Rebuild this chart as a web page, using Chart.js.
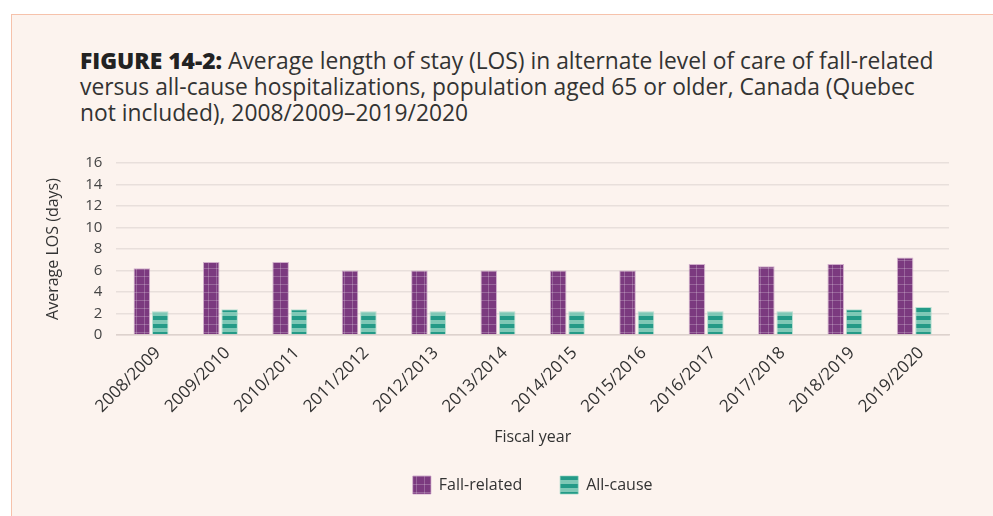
<!DOCTYPE html>
<html>
<head>
<meta charset="utf-8">
<script src="https://cdn.jsdelivr.net/npm/chart.js@4"></script>
<style>
	html, body {
		margin: 0;
		padding: 0;
		background: #ffffff;
		width: 993px;
		height: 516px;
		overflow: hidden;
		font-family: "Open Sans", sans-serif;
	}
	#panel {
		position: absolute;
		left: 11px;
		top: 14px;
		width: 1000px;
		height: 520px;
		background: #fcf3ee;
		border-left: 1px solid #f6c2ab;
		border-top: 1px solid #f6c2ab;
	}
	#title {
		position: absolute;
		left: 80px;
		top: 48px;
		width: 900px;
		font-size: 22.8px;
		line-height: 26px;
		color: #333333;
		white-space: nowrap;
	}
	#title b {
		font-weight: 800;
		color: #222222;
	}
	#wrap {
		position: absolute;
		left: 0;
		top: 140px;
		width: 993px;
		height: 376px;
	}
</style>
</head>
<body>
<div id="panel"></div>
<div id="title"><b>FIGURE 14-2:</b> Average length of stay (LOS) in alternate level of care of fall-related<br>versus all-cause hospitalizations, population aged 65 or older, Canada (Quebec<br>not included), 2008/2009–2019/2020</div>
<div id="wrap"><canvas id="myChart"></canvas></div>
<script>
"use strict";

const years = [
	"2008/2009", "2009/2010", "2010/2011", "2011/2012", "2012/2013", "2013/2014",
	"2014/2015", "2015/2016", "2016/2017", "2017/2018", "2018/2019", "2019/2020",
];
const fallRelated = [6.2, 6.8, 6.8, 6.0, 6.0, 6.0, 6.0, 6.0, 6.6, 6.4, 6.6, 7.2];
const allCause = [2.2, 2.4, 2.4, 2.2, 2.2, 2.2, 2.2, 2.2, 2.2, 2.2, 2.4, 2.6];
const yTicks = [0, 2, 4, 6, 8, 10, 12, 14, 16];

function gridPattern() {
	const c = document.createElement("canvas");
	c.width = 8;
	c.height = 8;
	const g = c.getContext("2d");
	g.fillStyle = "#7b3a7f";
	g.fillRect(0, 0, 8, 8);
	g.fillStyle = "rgba(255,255,255,0.22)";
	g.fillRect(0, 0, 1, 8);
	g.fillRect(0, 0, 8, 1);
	return g.createPattern(c, "repeat");
}

function stripePattern() {
	const c = document.createElement("canvas");
	c.width = 8;
	c.height = 8;
	const g = c.getContext("2d");
	g.fillStyle = "#249a87";
	g.fillRect(0, 0, 8, 4);
	g.fillStyle = "#7fc8b6";
	g.fillRect(0, 4, 8, 4);
	return g.createPattern(c, "repeat");
}

const ctx = document.getElementById("myChart");

new Chart(ctx, {
	type: "bar",
	data: {
		labels: years,
		datasets: [
			{
				label: "Fall-related",
				data: fallRelated,
				backgroundColor: gridPattern(),
				borderColor: "rgba(180,130,180,0.6)",
				borderWidth: 1,
				categoryPercentage: 0.53,
				barPercentage: 0.9,
			},
			{
				label: "All-cause",
				data: allCause,
				backgroundColor: stripePattern(),
				borderColor: "rgba(140,210,190,0.6)",
				borderWidth: 1,
				categoryPercentage: 0.53,
				barPercentage: 0.9,
			},
		],
	},
	options: {
		responsive: true,
		maintainAspectRatio: false,
		animation: false,
		layout: {
			padding: { left: 40, right: 44, top: 16, bottom: 12 },
		},
		plugins: {
			tooltip: { enabled: false },
			legend: {
				position: "bottom",
				fullSize: false,
				labels: {
					boxWidth: 18,
					boxHeight: 18,
					padding: 38,
					color: "#333333",
					font: { family: "Open Sans", size: 16 },
				},
			},
		},
		scales: {
			x: {
				grid: { display: false },
				border: { color: "#ddd2cd", width: 1.5 },
				ticks: {
					color: "#333333",
					font: { family: "Open Sans", size: 17 },
					maxRotation: 45,
					minRotation: 45,
					labelOffset: 7,
					padding: 0,
				},
				title: {
					display: true,
					text: "Fiscal year",
					color: "#333333",
					font: { family: "Open Sans", size: 16 },
					padding: { top: 11, bottom: -9 },
				},
			},
			y: {
				min: 0,
				max: 16,
				afterBuildTicks: function (axis) {
					axis.ticks = yTicks.map(function (v) {
						return { value: v };
					});
				},
				grid: {
					color: "#e8dfdb",
					lineWidth: 1.5,
					drawTicks: false,
				},
				border: { display: false },
				ticks: {
					autoSkip: false,
					color: "#444444",
					font: { family: "Open Sans", size: 15 },
					padding: 14,
				},
				title: {
					display: true,
					text: "Average LOS (days)",
					color: "#333333",
					font: { family: "Open Sans", size: 16 },
					padding: { bottom: 8 },
				},
			},
		},
	},
});
</script>
</body>
</html>
